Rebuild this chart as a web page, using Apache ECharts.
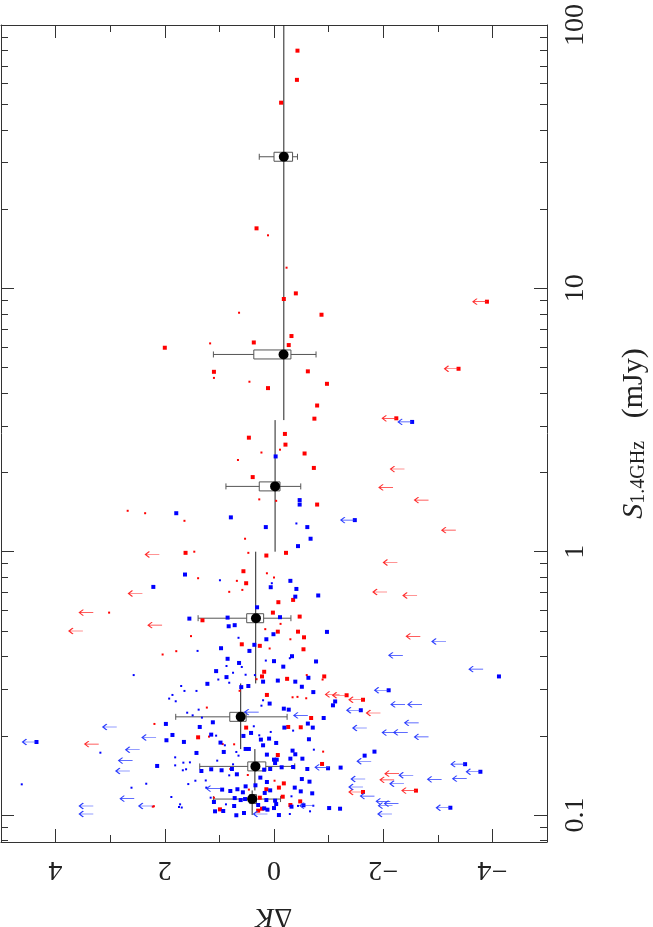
<!DOCTYPE html>
<html>
<head>
<meta charset="utf-8">
<script src="https://cdn.jsdelivr.net/npm/echarts@6/dist/echarts.min.js"></script>
<style>
  html, body { margin: 0; padding: 0; background: #fff; }
  #chart { width: 653px; height: 927px; }
</style>
</head>
<body>
<div id="chart"></div>
<script>
// every point is [deltaK, S_1.4GHz in mJy]
var blueBig = [
  [-0.03,2.30],[-0.47,1.57],[-0.47,1.51],[1.79,1.40],[0.79,1.35],[-0.61,1.24],[0.15,1.24],[-0.67,1.12],[-0.44,1.05],
  [1.63,0.819],[2.21,0.735],[-0.30,0.775],[-0.41,0.722],[0.06,0.733],[-0.39,0.675],[-0.81,0.682],[0.31,0.615],[-0.11,0.564],
  [1.55,0.557],[0.85,0.562],[0.83,0.521],[0.72,0.526],[0.01,0.486],[0.14,0.465],[-0.97,0.496],[0.36,0.443],[0.45,0.420],
  [0.97,0.430],[0.85,0.392],[0.64,0.378],[0.00,0.384],[-0.33,0.401],[-0.17,0.366],[-0.77,0.383],[1.06,0.352],[0.87,0.334],
  [-0.63,0.332],[-0.07,0.324],[0.20,0.321],[-0.39,0.321],[1.22,0.315],[0.47,0.309],[0.60,0.306],[-0.51,0.307],[-0.72,0.293],
  [-4.12,0.336],
  [0.08,0.265],[-1.12,0.270],[-1.08,0.261],[-0.18,0.2535],[-0.27,0.2513],[-0.91,0.2336],[-0.62,0.2225],[1.12,0.225],
  [1.98,0.2218],[1.36,0.216],[-0.19,0.2148],[-0.71,0.2148],[1.86,0.2014],[1.15,0.202],[0.56,0.1997],[0.42,0.205],
  [0.24,0.1934],[0.09,0.1951],[1.97,0.1923],[1.65,0.1895],[0.98,0.1884],[-0.64,0.194],[-0.04,0.1878],[0.20,0.184],
  [0.52,0.1782],[0.46,0.1782],[0.92,0.1736],[1.42,0.1721],[0.13,0.1696],[-0.34,0.1756],[-0.39,0.1701],[-0.30,0.1637],
  [-0.52,0.1637],[-0.05,0.1623],[0.00,0.1623],[-1.66,0.1681],[-1.84,0.1741],[2.14,0.1536],[1.33,0.147],[1.15,0.1492],
  [0.96,0.1479],[0.77,0.1496],[0.68,0.1428],[0.18,0.1487],[0.07,0.1496],[-0.02,0.1576],[-0.14,0.1518],[-0.35,0.1522],
  [-0.61,0.1496],[-0.99,0.1505],[-1.22,0.1514],[0.25,0.1387],[0.13,0.1335],[-0.51,0.137],[-0.65,0.1339],[0.52,0.1285],
  [0.34,0.1297],[-0.38,0.1271],[0.95,0.1249],[0.80,0.1234],[0.67,0.1253],[0.57,0.122],[0.17,0.1213],[0.07,0.1241],
  [-0.49,0.123],[-0.70,0.1209],[0.72,0.116],[0.61,0.114],[0.53,0.115],[0.14,0.114],[-0.02,0.1134],[1.10,0.1121],
  [1.08,0.1033],[0.93,0.1036],[0.73,0.1082],[0.29,0.1092],[0.18,0.106],[0.12,0.1048],[-0.04,0.1101],[0.00,0.1063],
  [-0.32,0.1076],[-0.54,0.1089],[0.69,0.0998],[0.55,0.1018],[-0.09,0.100],[-1.01,0.1063],[-1.21,0.1057]
];
var blueSmall = [
  [-0.41,1.28],[4.62,0.1308],[2.57,0.340],[3.18,0.1725],[2.34,0.1315],[2.61,0.127],
  [0.99,0.779],[0.04,0.759],[0.65,0.471],[1.40,0.420],[0.15,0.386],[-0.29,0.394],[0.59,0.365],[0.87,0.368],
  [0.75,0.347],[0.52,0.341],[0.35,0.340],[1.02,0.327],[0.82,0.318],[1.70,0.309],[1.64,0.296],[1.42,0.296],
  [1.86,0.2858],[1.92,0.2768],[1.80,0.2704],[0.20,0.2728],[0.23,0.2602],[1.38,0.2513],[1.59,0.2447],[1.49,0.2391],
  [1.32,0.2344],[1.06,0.2002],[0.37,0.2173],[0.27,0.2008],[0.06,0.2068],[-0.35,0.2092],[0.90,0.184],[0.69,0.1736],
  [0.65,0.1681],[-0.73,0.1771],[1.04,0.1609],[1.81,0.1656],[1.66,0.1581],[1.54,0.1585],[1.81,0.1544],[1.67,0.1479],
  [1.61,0.1492],[0.75,0.1558],[0.82,0.1415],[1.44,0.135],[1.25,0.1353],[1.57,0.1311],[1.24,0.1271],[1.16,0.1164],
  [1.88,0.1171],[1.72,0.1098],[1.74,0.1073],[1.69,0.1068],[0.88,0.1098],[-0.32,0.1178],[-0.72,0.1085],[-0.44,0.1083],
  [-0.29,0.1009],[-0.66,0.1033]
];
var redBig = [
  [-0.43,79.9],[-0.42,61.9],[-0.13,50.7],[0.32,16.9],[-0.40,9.57],[-0.18,9.11],
  [-0.87,7.94],[-0.32,6.59],[0.37,6.23],[-0.27,6.09],[2.00,5.95],[1.10,4.82],[-0.62,4.84],[-0.97,4.34],[0.11,4.18],
  [-0.79,3.59],[-0.74,3.20],[-0.20,2.80],[0.46,2.71],[-0.21,2.55],[-0.56,2.36],[-0.73,2.08],[0.39,1.92],[-0.79,1.51],
  [1.62,0.99],[-0.22,0.99],[0.14,0.967],
  [0.56,0.843],[0.51,0.759],[-0.08,0.643],[-0.35,0.656],[0.02,0.587],[-0.47,0.567],[1.31,0.549],[-0.07,0.497],
  [-0.44,0.497],[-0.55,0.473],[0.59,0.445],[0.26,0.439],[-0.54,0.426],[0.18,0.350],[0.22,0.336],[-0.24,0.329],[-0.92,0.336],
  [0.13,0.2858],[-0.68,0.2336],[-0.26,0.216],[-0.49,0.2154],[0.51,0.2148],[1.39,0.1973],[-0.07,0.169],[-0.88,0.1563],
  [-0.18,0.1319],[-0.09,0.1271],[-0.16,0.1174],[0.14,0.1253],[0.26,0.1164],[-0.48,0.1127],[-0.30,0.1092],[0.99,0.1051],
  [0.22,0.1057],[0.29,0.1039]
];
var redSmall = [
  [0.11,15.9],[-0.23,11.98],
  [0.64,8.08],[1.17,6.18],[1.10,4.57],[0.45,4.42],[0.23,2.38],[-0.11,2.44],[0.66,2.23],[0.27,1.58],[-0.04,1.56],
  [2.68,1.43],[2.36,1.40],[1.64,1.31],[0.53,1.12],[1.46,1.00],[0.47,0.99],[3.02,0.587],[2.20,0.108],
  [1.39,0.793],[0.13,0.828],[0.00,0.798],[0.68,0.775],[0.58,0.716],[0.82,0.704],[-0.12,0.532],[0.16,0.508],
  [-0.30,0.465],[1.52,0.478],[1.79,0.419],[2.04,0.407],[0.08,0.429],[-0.60,0.340],[-0.89,0.327],[0.32,0.328],
  [2.19,0.2218],[1.23,0.2559],[-0.43,0.281],[-0.34,0.280],[-0.59,0.2776],[0.73,0.1856],[0.94,0.186],[1.19,0.1985],
  [-0.90,0.1741],[0.80,0.1496],[0.48,0.1419],[-0.01,0.135],[2.22,0.1076],[1.10,0.1164],[0.46,0.1249],[0.63,0.2963]
];
// limits: arrow drawn from the point towards larger deltaK
var blueLimit = [
  [2.88,0.216],[2.16,0.197],[2.46,0.177],[2.59,0.161],[2.64,0.147],[2.56,0.1154],[2.22,0.1082],[3.31,0.1082],
  [3.31,0.1009],[0.28,0.246],[-0.62,0.239],[-1.70,0.214],[-2.40,0.263],[-2.71,0.263],[-2.65,0.224],[-2.24,0.2056],
  [-2.45,0.206],[-2.83,0.198],[-2.36,0.404],[-3.15,0.456],[-3.83,0.358],[-3.53,0.1374],[-3.07,0.1366],[-2.55,0.1416],
  [-2.38,0.1315],[-1.67,0.137],[-1.63,0.1278],[-1.84,0.118],[-2.13,0.1127],[-2.28,0.1105],[-2.17,0.1085],[-2.16,0.1009],
  [0.12,0.1009],[-1.78,0.160],[-1.01,0.1518],[-0.73,0.1085],[0.98,0.126]
];
var blueLimitSq = [
  [4.35,0.1894],[-1.59,0.25],[-2.10,0.2977],[-3.50,0.156],[-3.78,0.146],[-3.23,0.1066],[-2.53,3.11],[-1.48,1.318]
];
var redLimit = [
  [3.31,0.587],[3.50,0.500],[2.05,0.526],[-2.68,0.477],[3.21,0.186],[-1.95,0.244],[-2.29,0.1436],[-2.20,0.136],
  [-1.20,0.287],[-2.39,2.06],[-2.18,1.754],[-2.83,1.57],[-3.33,1.207],[-2.26,0.910],[-2.07,0.703],[-2.62,0.682],
  [2.10,0.976],[2.41,0.694]
];
var redLimitSq = [
  [-1.33,0.285],[-1.63,0.274],[-2.60,0.1238],[-1.63,0.1223],[-3.38,4.95],[-3.90,8.9],[-2.24,3.21]
];

// binned medians with interquartile box and whiskers
var medS   = [31.6, 5.61, 1.77, 0.559, 0.236, 0.153, 0.115];
var medDk  = [-0.18, -0.175, -0.02, 0.33, 0.61, 0.34, 0.40];
var boxL   = [0.00, 0.37, 0.27, 0.50, 0.81, 0.48, 0.45];
var boxR   = [-0.34, -0.31, -0.11, 0.19, 0.51, 0.15, 0.32];
var whiskL = [0.27, 1.11, 0.88, 1.39, 1.80, 1.36, 1.11];
var whiskR = [-0.43, -0.77, -0.49, -0.31, -0.24, -0.38, -0.12];

// running median drawn as vertical steps over the S bins
var stepDk  = [-0.18, -0.02, 0.335, 0.61, 0.35, 0.40];
var stepTop = [100, 3.16, 1.0, 0.316, 0.178, 0.124];
var stepBot = [3.16, 1.0, 0.316, 0.178, 0.124, 0.1];

var xMajor = [-4, -2, 0, 2, 4];
var xMinor = [-3, -1, 1, 3];
var yLabels = [0.1, 1, 10, 100];

var FONT = '"Liberation Serif", "DejaVu Serif", serif';
var INK = '#222';
var yMin = 0.079, yMax = 100;
var lg = function (v) { return Math.log(v) / Math.LN10; };

var yMajorLog = yLabels.map(lg);
var yMinorLog = [];
[0.01, 0.1, 1, 10].forEach(function (d) {
    for (var k = 2; k <= 9; k++) {
        var v = lg(k * d);
        if (v >= lg(yMin) && v <= 2) yMinorLog.push(v);
    }
});

var tickLine = { color: '#333', width: 1 };
var frameLine = { show: true, onZero: false, lineStyle: { color: '#333', width: 1 } };

function xTicks(pos, vals, len) {
    return {
        type: 'value', min: -5, max: 5, inverse: true, position: pos, gridIndex: 0,
        axisLine: { show: false, onZero: false },
        axisTick: { show: true, inside: true, length: len, customValues: vals, lineStyle: tickLine },
        axisLabel: { show: false },
        splitLine: { show: false }
    };
}
function yTicks(pos, vals, len) {
    return {
        type: 'value', min: lg(yMin), max: 2, position: pos, gridIndex: 0,
        axisLine: { show: false, onZero: false },
        axisTick: { show: true, inside: true, length: len, customValues: vals, lineStyle: tickLine },
        axisLabel: { show: false },
        splitLine: { show: false }
    };
}

var xMain = xTicks('bottom', xMajor, 13);
xMain.axisLine = frameLine;
xMain.axisLabel = {
    show: true, customValues: xMajor, rotate: 180, margin: 13,
    fontFamily: FONT, fontSize: 28, color: INK,
    formatter: function (v) { return v < 0 ? '\u2212' + (-v) : String(v); }
};
xMain.name = '{d|\u0394}{k|K}';
xMain.nameLocation = 'middle';
xMain.nameRotate = 180;
xMain.nameGap = 60;
xMain.nameTextStyle = {
    rich: {
        d: { fontFamily: FONT, fontSize: 28, color: INK },
        k: { fontFamily: FONT, fontSize: 28, fontStyle: 'italic', color: INK }
    }
};

var xTop = xTicks('top', xMajor, 13);
xTop.axisLine = frameLine;

var yRight = yTicks('right', yMajorLog, 13);
yRight.axisLine = frameLine;
yRight.axisLabel = {
    show: true, customValues: yMajorLog, rotate: 90, margin: 15,
    fontFamily: FONT, fontSize: 28, color: INK,
    formatter: function (v) { return String(+Math.pow(10, v).toPrecision(3)); }
};
yRight.name = '{s|S}{sub|1.4GHz}{r|   (mJy)}';
yRight.nameLocation = 'middle';
yRight.nameGap = 70;
yRight.nameTextStyle = {
    rich: {
        s: { fontFamily: FONT, fontSize: 30, fontStyle: 'italic', color: INK, lineHeight: 32, verticalAlign: 'bottom' },
        sub: { fontFamily: FONT, fontSize: 20, color: INK, lineHeight: 22, verticalAlign: 'bottom' },
        r: { fontFamily: FONT, fontSize: 30, color: INK, lineHeight: 32, verticalAlign: 'bottom' }
    }
};

var yLeft = yTicks('left', yMajorLog, 13);
yLeft.axisLine = frameLine;

var arrowPath = 'path://M0,3L14,3M4,0L0,3L4,6';

function dots(data, color, size) {
    return {
        type: 'scatter', xAxisIndex: 0, yAxisIndex: 0, data: data,
        symbol: 'rect', symbolSize: size, silent: true,
        itemStyle: { color: color, opacity: 1 }
    };
}
function arrows(data, color) {
    return {
        type: 'scatter', xAxisIndex: 0, yAxisIndex: 0, data: data,
        symbol: arrowPath, symbolSize: [14, 6], symbolOffset: [-7, 0], silent: true,
        itemStyle: { color: 'transparent', borderColor: color, borderWidth: 1, opacity: 1 }
    };
}

var boxData = medDk.map(function (d, i) {
    return [d, medS[i], boxL[i], boxR[i], whiskL[i], whiskR[i]];
});
var stepData = stepDk.map(function (d, i) { return [d, stepTop[i], stepBot[i]]; });

var chart = echarts.init(document.getElementById('chart'), null, { renderer: 'canvas' });
chart.setOption({
    backgroundColor: '#fff',
    animation: false,
    grid: { left: 1, right: 106, top: 25, bottom: 85, outerBoundsMode: 'none' },
    xAxis: [
        xMain,
        xTicks('bottom', xMinor, 7),
        xTop,
        xTicks('top', xMinor, 7)
    ],
    yAxis: [
        { type: 'log', logBase: 10, min: yMin, max: yMax, show: false, gridIndex: 0 },
        yRight,
        yTicks('right', yMinorLog, 7),
        yLeft,
        yTicks('left', yMinorLog, 7)
    ],
    series: [
        dots(redSmall, '#ff0000', 2),
        dots(redBig, '#ff0000', 4),
        dots(redLimitSq, '#ff0000', 4),
        arrows(redLimit, '#ff2a2a'),
        arrows(redLimitSq, '#ff2a2a'),
        dots(blueSmall, '#0000ff', 2),
        dots(blueBig, '#0000ff', 4),
        dots(blueLimitSq, '#0000ff', 4),
        arrows(blueLimit, '#2a3cff'),
        arrows(blueLimitSq, '#2a3cff'),
        {
            type: 'custom', xAxisIndex: 0, yAxisIndex: 0, data: stepData, silent: true,
            encode: { x: 0, y: [1, 2] },
            renderItem: function (params, api) {
                var p0 = api.coord([api.value(0), api.value(1)]);
                var p1 = api.coord([api.value(0), api.value(2)]);
                return {
                    type: 'line',
                    shape: { x1: p0[0], y1: p0[1], x2: p1[0], y2: p1[1] },
                    style: { stroke: '#222', lineWidth: 1 }
                };
            }
        },
        {
            type: 'custom', xAxisIndex: 0, yAxisIndex: 0, data: boxData, silent: true,
            encode: { x: 0, y: 1 },
            renderItem: function (params, api) {
                var s = api.value(1);
                var b0 = api.coord([api.value(2), s]);
                var b1 = api.coord([api.value(3), s]);
                var w0 = api.coord([api.value(4), s]);
                var w1 = api.coord([api.value(5), s]);
                var y = b0[1];
                var st = { stroke: '#555', lineWidth: 1, fill: null };
                return {
                    type: 'group',
                    children: [
                        { type: 'line', shape: { x1: w0[0], y1: y, x2: w1[0], y2: y }, style: st },
                        { type: 'line', shape: { x1: w0[0], y1: y - 3, x2: w0[0], y2: y + 3 }, style: st },
                        { type: 'line', shape: { x1: w1[0], y1: y - 3, x2: w1[0], y2: y + 3 }, style: st },
                        {
                            type: 'rect',
                            shape: { x: Math.min(b0[0], b1[0]), y: y - 4.5, width: Math.abs(b1[0] - b0[0]), height: 9 },
                            style: { stroke: '#555', lineWidth: 1, fill: '#fff' }
                        }
                    ]
                };
            }
        },
        {
            type: 'scatter', xAxisIndex: 0, yAxisIndex: 0, silent: true,
            data: medDk.map(function (d, i) { return [d, medS[i]]; }),
            symbol: 'circle', symbolSize: 10,
            itemStyle: { color: '#000', opacity: 1 }
        }
    ]
});
</script>
</body>
</html>
